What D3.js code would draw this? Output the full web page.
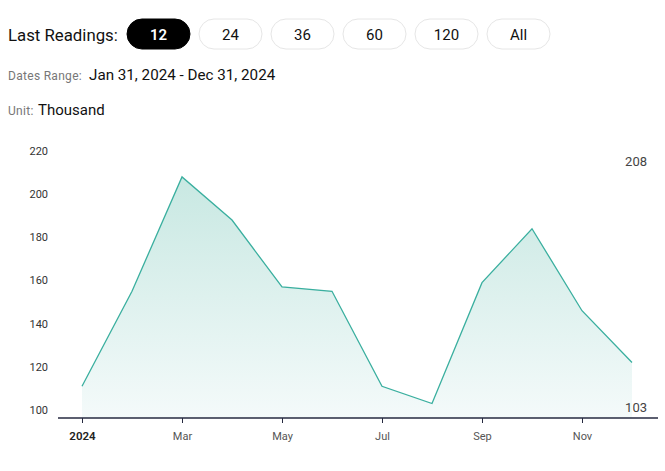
<!DOCTYPE html>
<html>
<head>
<meta charset="utf-8">
<script src="https://cdn.jsdelivr.net/npm/d3@7"></script>
<style>
  html, body { margin: 0; padding: 0; background: #fff; }
  svg { display: block; font-family: Roboto, "Noto Sans", sans-serif; }
</style>
</head>
<body>
<svg id="chart" width="665" height="471"></svg>
<script>
// ---- data ----
const months = ["2024-01","2024-02","2024-03","2024-04","2024-05","2024-06",
                "2024-07","2024-08","2024-09","2024-10","2024-11","2024-12"];
const values = [111, 155, 208, 188, 157, 155, 111, 103, 159, 184, 146, 122];
const yTicks = [100, 120, 140, 160, 180, 200, 220];
const xTickMonths = ["2024-01","2024-03","2024-05","2024-07","2024-09","2024-11"];
const readingOptions = ["12", "24", "36", "60", "120", "All"];
const selectedOption = "12";
const datesRange = "Jan 31, 2024 - Dec 31, 2024";
const unitLabel = "Thousand";

const parse = d3.utcParse("%Y-%m");
const data = months.map((m, i) => ({ month: m, value: values[i] }));

const svg = d3.select("#chart");

// ---- header ----
svg.append("text").attr("x", 8).attr("y", 40.5)
  .attr("font-size", 16.8).attr("fill", "#111").text("Last Readings:");

const btn = svg.append("g").selectAll("g").data(readingOptions).join("g")
  .attr("transform", (d, i) => `translate(${127 + i * 72},19)`);
btn.append("rect").attr("width", 63).attr("height", 30).attr("rx", 15).attr("ry", 15)
  .attr("fill", d => d === selectedOption ? "#000" : "#fff")
  .attr("stroke", d => d === selectedOption ? "#000" : "#e6e6e6")
  .attr("stroke-width", 1);
btn.append("text").attr("x", 31.5).attr("y", 20.5).attr("text-anchor", "middle")
  .attr("font-size", 15).attr("font-weight", d => d === selectedOption ? 600 : 400)
  .attr("fill", d => d === selectedOption ? "#fff" : "#111").text(d => d);

svg.append("text").attr("x", 8).attr("y", 80).attr("font-size", 12)
  .attr("fill", "#777").attr("letter-spacing", 0.3).text("Dates Range:");
svg.append("text").attr("x", 89).attr("y", 80).attr("font-size", 15.2)
  .attr("fill", "#111").text(datesRange);

svg.append("text").attr("x", 8).attr("y", 115).attr("font-size", 12)
  .attr("fill", "#777").attr("letter-spacing", 0.3).text("Unit:");
svg.append("text").attr("x", 38).attr("y", 115).attr("font-size", 15)
  .attr("fill", "#111").text(unitLabel);

// ---- scales ----
const x = d3.scalePoint().domain(months).range([82, 632]);
const y = d3.scaleLinear().domain([96.3, 220]).range([418, 151]);

// gradient
const defs = svg.append("defs");
const grad = defs.append("linearGradient").attr("id", "areaGrad")
  .attr("gradientUnits", "userSpaceOnUse")
  .attr("x1", 0).attr("x2", 0)
  .attr("y1", y(d3.max(values))).attr("y2", y.range()[0]);
grad.append("stop").attr("offset", 0).attr("stop-color", "#c8e8e2");
grad.append("stop").attr("offset", 1).attr("stop-color", "#f4fafa");

// area
const area = d3.area().x(d => x(d.month)).y0(y.range()[0]).y1(d => y(d.value));
svg.append("path").datum(data).attr("d", area).attr("fill", "url(#areaGrad)");

const line = d3.line().x(d => x(d.month)).y(d => y(d.value));
svg.append("path").datum(data).attr("d", line)
  .attr("fill", "none").attr("stroke", "#3aaf9f").attr("stroke-width", 1.3);

// y axis labels
svg.append("g").selectAll("text").data(yTicks).join("text")
  .attr("x", 48).attr("y", d => y(d)).attr("dy", "0.35em")
  .attr("text-anchor", "end").attr("font-size", 11).attr("fill", "#333")
  .text(d => d);

// x axis
const isYearStart = m => parse(m).getUTCMonth() === 0;
const xAxis = d3.axisBottom(x).tickValues(xTickMonths).tickSize(5).tickSizeOuter(0)
  .tickFormat(m => isYearStart(m) ? d3.utcFormat("%Y")(parse(m)) : d3.utcFormat("%b")(parse(m)));
const gx = svg.append("g").attr("transform", `translate(0,${y.range()[0]})`).call(xAxis);
gx.select(".domain").remove();
gx.append("line").attr("x1", 58).attr("x2", 658).attr("y1", 0).attr("y2", 0)
  .attr("stroke", "#262a40").attr("stroke-width", 1.5);
gx.selectAll(".tick line").attr("stroke", "#262a40");
gx.selectAll(".tick text")
  .attr("font-family", "Roboto, sans-serif")
  .attr("font-size", d => isYearStart(d) ? 11.5 : 11)
  .attr("dy", "1.25em")
  .attr("fill", d => isYearStart(d) ? "#222" : "#555")
  .attr("font-weight", d => isYearStart(d) ? 600 : 400);

// max / min labels
const maxV = d3.max(values), minV = d3.min(values);
svg.append("text").attr("x", 647).attr("y", 161).attr("dy", "0.35em")
  .attr("text-anchor", "end").attr("font-size", 13).attr("fill", "#444").text(maxV);
svg.append("text").attr("x", 647).attr("y", 407).attr("dy", "0.35em")
  .attr("text-anchor", "end").attr("font-size", 13).attr("fill", "#444").text(minV);
</script>
</body>
</html>
